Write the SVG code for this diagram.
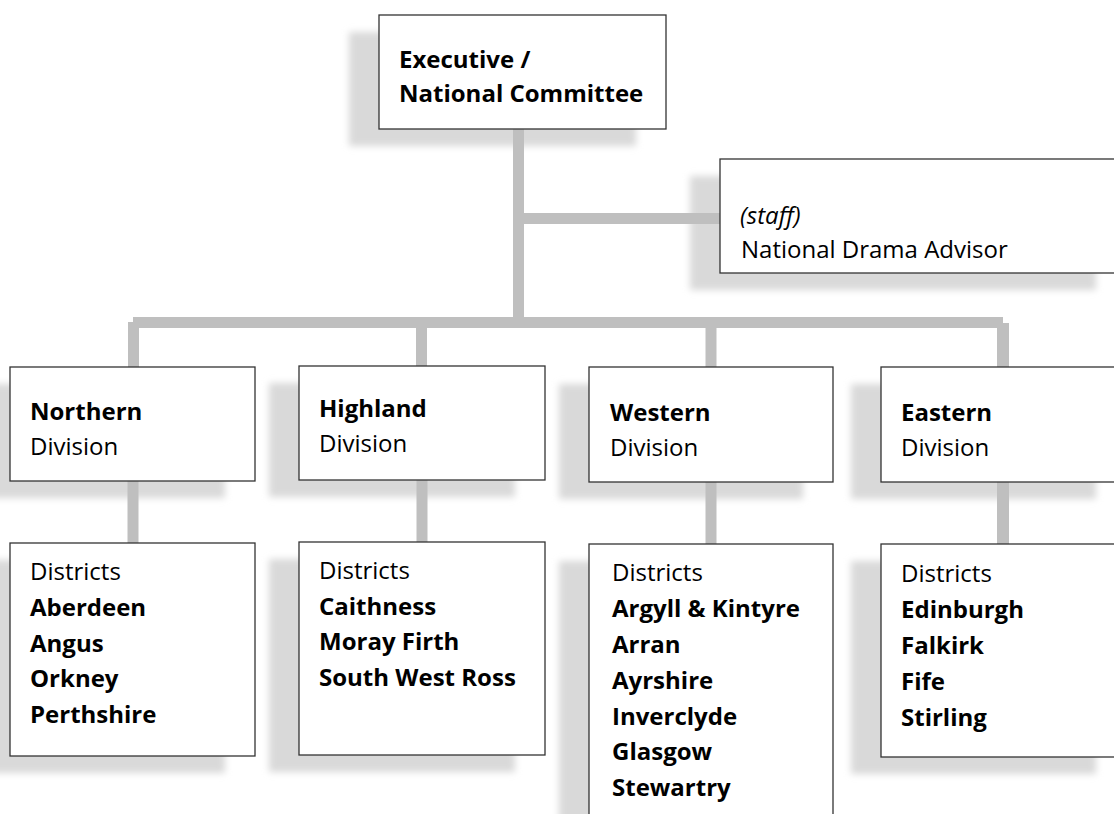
<svg xmlns="http://www.w3.org/2000/svg" width="1114" height="814" viewBox="0 0 1114 814">
  <defs>
    <filter id="blur" x="-20%" y="-20%" width="140%" height="140%">
      <feGaussianBlur stdDeviation="3.5"/>
    </filter>
    <style>
      .shadow { fill: #d9d9d9; filter: url(#blur); }
      .box { fill: #ffffff; stroke: #333333; stroke-width: 1.3; }
      .conn { fill: none; stroke: #bfbfbf; stroke-width: 11; stroke-linecap: butt; }
      text { font-family: "Open Sans", "Liberation Sans", sans-serif; font-size: 24px; fill: #000000; }
      .b { font-weight: bold; }
      .i { font-style: italic; }
    </style>
  </defs>
  <rect width="1114" height="814" fill="#ffffff"/>

  <g id="shadows">
    <rect class="shadow" x="349" y="32" width="287" height="114"/>
    <rect class="shadow" x="690" y="176" width="406" height="114"/>
    <rect class="shadow" x="-20" y="384" width="245" height="114"/>
    <rect class="shadow" x="269" y="383" width="246" height="114"/>
    <rect class="shadow" x="559" y="384" width="244" height="115"/>
    <rect class="shadow" x="851" y="384" width="245" height="115"/>
    <rect class="shadow" x="-20" y="560" width="245" height="213"/>
    <rect class="shadow" x="269" y="559" width="246" height="213"/>
    <rect class="shadow" x="559" y="561" width="244" height="290"/>
    <rect class="shadow" x="851" y="561" width="245" height="213"/>
  </g>

  <g id="connectors">
    <path class="conn" d="M518.5 129 V328"/>
    <path class="conn" d="M524 218.5 H720"/>
    <path class="conn" d="M133 322.5 H1003"/>
    <path class="conn" d="M133.5 322 V367"/>
    <path class="conn" d="M421.5 328 V366"/>
    <path class="conn" d="M711 328 V367"/>
    <path class="conn" d="M1003 323 V367" style="stroke-width:12"/>
    <path class="conn" d="M133 481 V543"/>
    <path class="conn" d="M422 480 V542"/>
    <path class="conn" d="M711 482 V544"/>
    <path class="conn" d="M1003 482 V544" style="stroke-width:12"/>
  </g>

  <g id="executive">
    <rect class="box" x="379" y="15" width="287" height="114"/>
    <text class="b" x="399" y="68">Executive /</text>
    <text class="b" x="399" y="102">National Committee</text>
  </g>

  <g id="staff">
    <rect class="box" x="720" y="159" width="406" height="114"/>
    <text class="i" x="740" y="224">(staff)</text>
    <text x="741" y="258">National Drama Advisor</text>
  </g>

  <g id="northern-division">
    <rect class="box" x="10" y="367" width="245" height="114"/>
    <text class="b" x="30" y="420">Northern</text>
    <text x="30" y="455">Division</text>
  </g>

  <g id="highland-division">
    <rect class="box" x="299" y="366" width="246" height="114"/>
    <text class="b" x="319" y="417">Highland</text>
    <text x="319" y="452">Division</text>
  </g>

  <g id="western-division">
    <rect class="box" x="589" y="367" width="244" height="115"/>
    <text class="b" x="610" y="421">Western</text>
    <text x="610" y="456">Division</text>
  </g>

  <g id="eastern-division">
    <rect class="box" x="881" y="367" width="245" height="115"/>
    <text class="b" x="901" y="421">Eastern</text>
    <text x="901" y="456">Division</text>
  </g>

  <g id="northern-districts">
    <rect class="box" x="10" y="543" width="245" height="213"/>
    <text x="30" y="580">Districts</text>
    <text class="b" x="30" y="616">Aberdeen</text>
    <text class="b" x="30" y="652">Angus</text>
    <text class="b" x="30" y="687">Orkney</text>
    <text class="b" x="30" y="723">Perthshire</text>
  </g>

  <g id="highland-districts">
    <rect class="box" x="299" y="542" width="246" height="213"/>
    <text x="319" y="579">Districts</text>
    <text class="b" x="319" y="615">Caithness</text>
    <text class="b" x="319" y="650">Moray Firth</text>
    <text class="b" x="319" y="686">South West Ross</text>
  </g>

  <g id="western-districts">
    <rect class="box" x="589" y="544" width="244" height="290"/>
    <text x="612" y="581">Districts</text>
    <text class="b" x="612" y="617">Argyll &amp; Kintyre</text>
    <text class="b" x="612" y="653">Arran</text>
    <text class="b" x="612" y="689">Ayrshire</text>
    <text class="b" x="612" y="725">Inverclyde</text>
    <text class="b" x="612" y="760">Glasgow</text>
    <text class="b" x="612" y="796">Stewartry</text>
  </g>

  <g id="eastern-districts">
    <rect class="box" x="881" y="544" width="245" height="213"/>
    <text x="901" y="582">Districts</text>
    <text class="b" x="901" y="618">Edinburgh</text>
    <text class="b" x="901" y="654">Falkirk</text>
    <text class="b" x="901" y="690">Fife</text>
    <text class="b" x="901" y="726">Stirling</text>
  </g>
</svg>
